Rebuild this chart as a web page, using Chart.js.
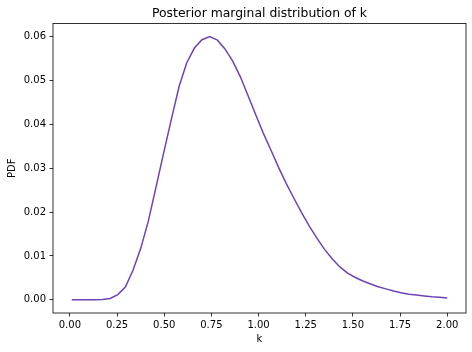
<!DOCTYPE html>
<html>
<head>
<meta charset="utf-8">
<script src="https://cdn.jsdelivr.net/npm/chart.js@4/dist/chart.umd.min.js"></script>
<style>
  html, body { margin: 0; padding: 0; background: #fff; }
  #wrap { width: 472px; height: 352px; }
</style>
</head>
<body>
<div id="wrap"><canvas id="c" width="472" height="352"></canvas></div>
<script>
// ── data ──
const kValues = [
  0.010, 0.051, 0.091, 0.132, 0.172, 0.213, 0.254, 0.294, 0.335, 0.376,
  0.416, 0.457, 0.497, 0.538, 0.579, 0.619, 0.660, 0.700, 0.741, 0.782,
  0.822, 0.863, 0.903, 0.944, 0.985, 1.025, 1.066, 1.106, 1.147, 1.188,
  1.228, 1.269, 1.310, 1.350, 1.391, 1.431, 1.472, 1.513, 1.553, 1.594,
  1.634, 1.675, 1.716, 1.756, 1.797, 1.838, 1.878, 1.919, 1.959, 2.000
];
const pdfValues = [
  0.0000, 0.0000, 0.0000, 0.0000, 0.0001, 0.0003, 0.0012, 0.0029, 0.0068, 0.0118,
  0.0180, 0.0258, 0.0335, 0.0412, 0.0487, 0.0540, 0.0574, 0.0593, 0.0600, 0.0592,
  0.0572, 0.0544, 0.0509, 0.0466, 0.0422, 0.0380, 0.0341, 0.0302, 0.0265, 0.0231,
  0.0199, 0.0168, 0.0140, 0.0115, 0.0093, 0.0075, 0.0061, 0.0051, 0.0043, 0.0036,
  0.0030, 0.0025, 0.0020, 0.0016, 0.0013, 0.0011, 0.0009, 0.0007, 0.0006, 0.0004
];
const xTicks = [0, 0.25, 0.5, 0.75, 1.0, 1.25, 1.5, 1.75, 2.0];
const yTicks = [0, 0.01, 0.02, 0.03, 0.04, 0.05, 0.06];

const FONT = "'DejaVu Sans', sans-serif";

// matplotlib-style box around the axes
const frame = {
  id: 'frame',
  afterDraw(chart) {
    const { ctx, chartArea: a } = chart;
    ctx.save();
    ctx.strokeStyle = '#000';
    ctx.lineWidth = 0.8;
    ctx.strokeRect(a.left, a.top, a.right - a.left, a.bottom - a.top);
    ctx.restore();
  }
};

const tickGrid = { display: true, drawOnChartArea: false, drawTicks: true, tickLength: 3.5, color: '#000', lineWidth: 0.8 };

new Chart(document.getElementById('c'), {
  type: 'line',
  data: {
    datasets: [{
      data: kValues.map((k, i) => ({ x: k, y: pdfValues[i] })),
      borderColor: '#7043b4',
      borderWidth: 1.5,
      pointRadius: 0,
      tension: 0,
      fill: false
    }]
  },
  options: {
    responsive: false,
    animation: false,
    layout: { padding: { top: 0, left: 0, right: 6, bottom: 0 } },
    plugins: {
      legend: { display: false },
      tooltip: { enabled: false },
      title: {
        display: true,
        text: 'Posterior marginal distribution of k',
        fullSize: false,
        color: '#000',
        font: { family: FONT, size: 12.4, weight: 'normal' },
        padding: { top: 6, bottom: 2.6 }
      }
    },
    scales: {
      x: {
        type: 'linear',
        min: -0.0895, max: 2.0995,
        afterBuildTicks: s => { s.ticks = xTicks.map(v => ({ value: v })); },
        afterFit: s => { s.height = 39; },
        ticks: { color: '#000', font: { family: FONT, size: 10 }, padding: 3, maxRotation: 0, callback: v => v.toFixed(2) },
        grid: tickGrid,
        border: { display: false },
        title: { display: true, text: 'k', color: '#000', font: { family: FONT, size: 10 }, padding: { top: 0, bottom: 6.5 } }
      },
      y: {
        type: 'linear',
        min: -0.003, max: 0.063,
        afterBuildTicks: s => { s.ticks = yTicks.map(v => ({ value: v })); },
        afterFit: s => { s.width = 53; },
        ticks: { color: '#000', font: { family: FONT, size: 10 }, padding: 3.5, callback: v => v.toFixed(2) },
        grid: tickGrid,
        border: { display: false },
        title: { display: true, text: 'PDF', color: '#000', font: { family: FONT, size: 10 }, padding: { top: 6, bottom: 0 } }
      }
    }
  },
  plugins: [frame]
});
</script>
</body>
</html>
